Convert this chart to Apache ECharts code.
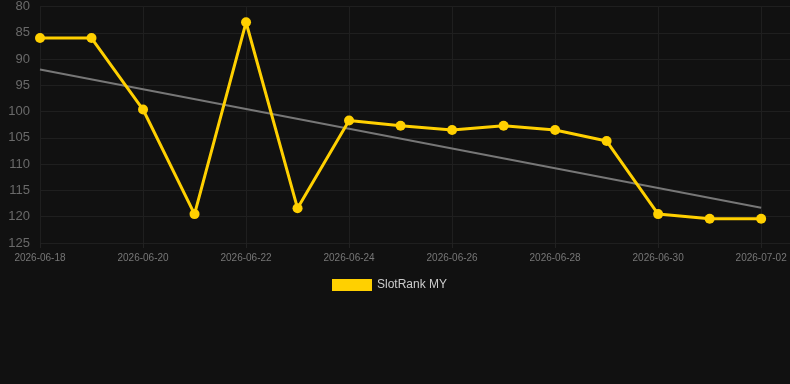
<!DOCTYPE html>
<html>
<head>
<meta charset="utf-8">
<script src="https://cdn.jsdelivr.net/npm/echarts@6/dist/echarts.min.js"></script>
<style>
html,body{margin:0;padding:0;background:#111111;}
#c{width:790px;height:384px;}
</style>
</head>
<body>
<div id="c"></div>
<script>
var dates = ['2026-06-18','2026-06-19','2026-06-20','2026-06-21','2026-06-22','2026-06-23','2026-06-24','2026-06-25','2026-06-26','2026-06-27','2026-06-28','2026-06-29','2026-06-30','2026-07-01','2026-07-02'];
var rankValues = [86, 86, 99.6, 119.5, 83, 118.4, 101.7, 102.7, 103.5, 102.7, 103.5, 105.6, 119.5, 120.4, 120.4];
var trendStart = 92;
var trendEnd = 118.3;
var seriesName = 'SlotRank MY';

var rankData = rankValues.map(function(v, i){ return [i, v]; });
var trendData = [[0, trendStart], [dates.length - 1, trendEnd]];

var chart = echarts.init(document.getElementById('c'));
chart.setOption({
  backgroundColor: '#111111',
  animation: false,
  grid: {left: 40, right: 0, top: 6, bottom: 141},
  legend: {
    data: [{name: seriesName, icon: 'rect'}],
    bottom: 88,
    left: 327,
    itemWidth: 40,
    itemHeight: 12,
    textStyle: {color: '#cccccc', fontSize: 12, fontFamily: 'Arial, Liberation Sans, sans-serif'}
  },
  xAxis: {
    type: 'value',
    min: 0,
    max: 14.56,
    interval: 2,
    axisLine: {show: false},
    axisTick: {show: true, length: 5, lineStyle: {color: '#222222'}},
    axisLabel: {
      color: '#777777', fontSize: 10, margin: 10, fontFamily: 'Arial, Liberation Sans, sans-serif',
      showMaxLabel: false,
      formatter: function(v){ return (Math.round(v) === v && dates[v]) ? dates[v] : ''; }
    },
    splitLine: {show: true, lineStyle: {color: '#1f1f1f'}}
  },
  yAxis: {
    type: 'value',
    inverse: true,
    min: 80,
    max: 125,
    interval: 5,
    axisLine: {show: false},
    axisTick: {show: false},
    axisLabel: {color: '#6a6a6a', fontSize: 13, margin: 10, fontFamily: 'Arial, Liberation Sans, sans-serif'},
    splitLine: {show: true, lineStyle: {color: '#1f1f1f'}}
  },
  series: [
    {
      name: seriesName,
      type: 'line',
      data: rankData,
      symbol: 'circle',
      symbolSize: 10,
      lineStyle: {color: '#FFD000', width: 3},
      itemStyle: {color: '#FFD000'},
      z: 3
    },
    {
      name: 'trend',
      type: 'line',
      data: trendData,
      symbol: 'none',
      lineStyle: {color: '#777777', width: 2},
      itemStyle: {color: '#777777'},
      z: 2
    }
  ]
});
</script>
</body>
</html>
